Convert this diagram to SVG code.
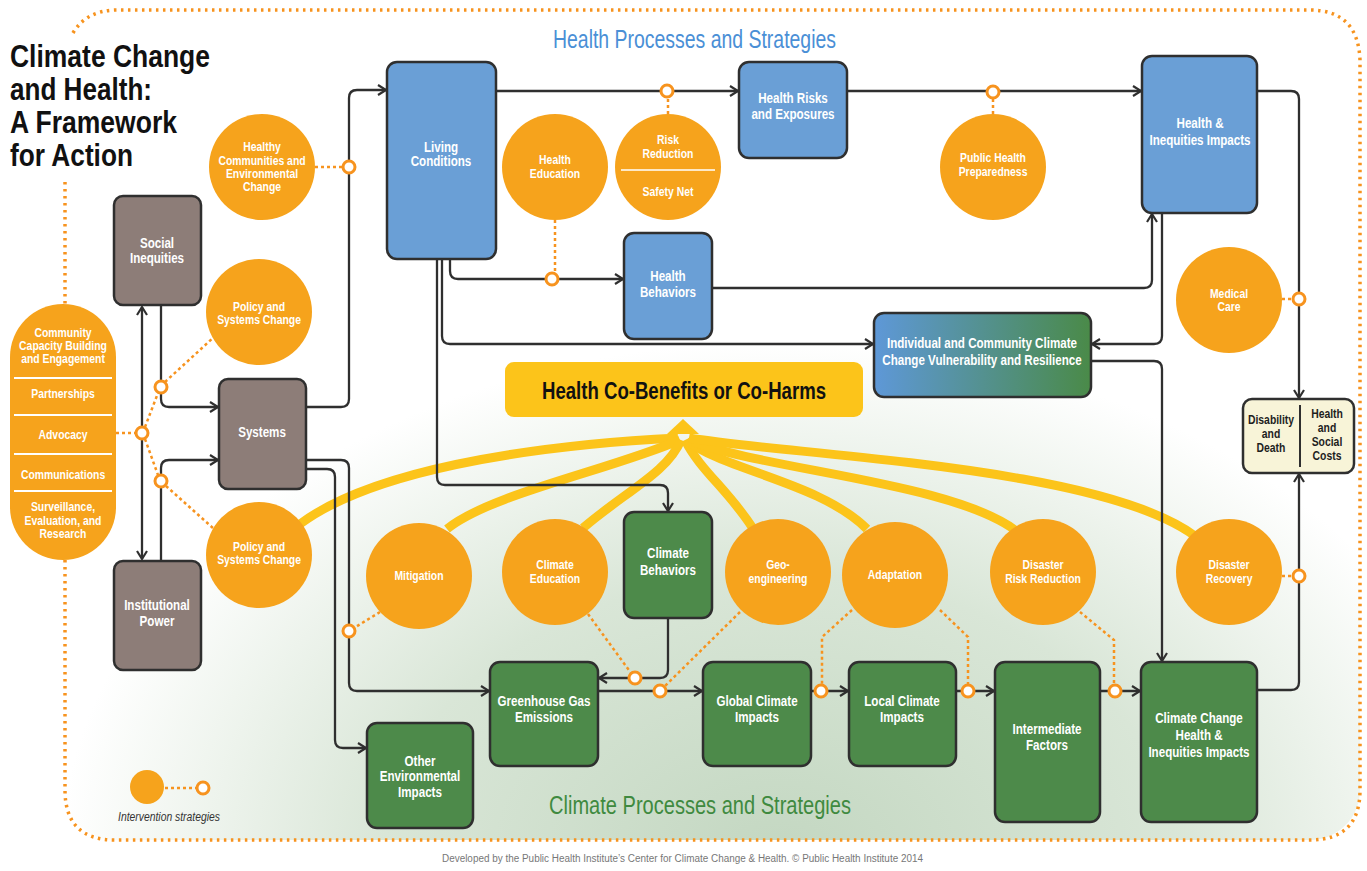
<svg xmlns="http://www.w3.org/2000/svg" width="1367" height="871" viewBox="0 0 1367 871">
<defs>
<style>
.w{font-family:"Liberation Sans",Arial,sans-serif;font-weight:bold;fill:#fff;text-anchor:middle;font-size:13px;transform-box:fill-box;transform-origin:center;transform:scaleX(0.8)}
.bx{font-size:14.5px}
.d{font-family:"Liberation Sans",Arial,sans-serif;font-weight:bold;fill:#1e1e1e;text-anchor:middle;font-size:13.5px;transform-box:fill-box;transform-origin:center;transform:scaleX(0.77)}
.oc{fill:#f6a31c}
.blue{fill:#6a9fd6;stroke:#2f2f2f;stroke-width:2.5}
.brown{fill:#8d7d78;stroke:#2f2f2f;stroke-width:2.5}
.green{fill:#4d8a4a;stroke:#2f2f2f;stroke-width:2.5}
.ln{fill:none;stroke:#2f2f2f;stroke-width:2.3}
.dash{fill:none;stroke:#f7931e;stroke-width:2.5;stroke-dasharray:3 3}
.sc{fill:#fff;stroke:#f7931e;stroke-width:3}
.yl{fill:none;stroke:#fcc41a;stroke-width:9;stroke-linecap:butt}
</style>
<marker id="ah" markerWidth="14" markerHeight="14" refX="9" refY="6" orient="auto-start-reverse" markerUnits="userSpaceOnUse"><path d="M1,1 L9,6 L1,11" fill="none" stroke="#2f2f2f" stroke-width="2.2"/></marker>
<radialGradient id="bg" gradientUnits="userSpaceOnUse" cx="780" cy="860" r="720" gradientTransform="translate(780 860) scale(1 0.72) translate(-780 -860)">
<stop offset="0" stop-color="#c3d7c1"/><stop offset="0.55" stop-color="#d9e6d7"/><stop offset="1" stop-color="#ffffff"/>
</radialGradient>
<linearGradient id="ind" x1="0" y1="0" x2="1" y2="0"><stop offset="0" stop-color="#5e98d8"/><stop offset="1" stop-color="#4a8a48"/></linearGradient>
</defs>
<rect width="1367" height="871" fill="#fff"/>
<rect x="65" y="10" width="1295" height="830" rx="50" fill="url(#bg)"/>
<!-- border -->
<path d="M73,33 Q86,11 115,10 H1310 Q1358,10 1360,60 V790 Q1360,840 1310,840 H115 Q65,840 65,790 V182" fill="none" stroke="#f7931e" stroke-width="3.5" stroke-dasharray="2.5 4.5"/>
<!-- title -->
<g id="title" font-family="'Liberation Sans',Arial,sans-serif" font-weight="bold" font-size="31" fill="#111">
<text x="10" y="67" textLength="200" lengthAdjust="spacingAndGlyphs">Climate Change</text>
<text x="10" y="100" textLength="142" lengthAdjust="spacingAndGlyphs">and Health:</text>
<text x="10" y="133" textLength="167" lengthAdjust="spacingAndGlyphs">A Framework</text>
<text x="10" y="166" textLength="123" lengthAdjust="spacingAndGlyphs">for Action</text>
</g>
<text x="553" y="48" font-family="'Liberation Sans',Arial,sans-serif" font-size="25" fill="#4a8fd6" textLength="283" lengthAdjust="spacingAndGlyphs">Health Processes and Strategies</text>
<text x="549" y="814" font-family="'Liberation Sans',Arial,sans-serif" font-size="25" fill="#3f8a3f" textLength="302" lengthAdjust="spacingAndGlyphs">Climate Processes and Strategies</text>

<!-- yellow co-benefit flows -->
<g id="cobenefit-flows">
<path class="yl" d="M300,524 C370,472 520,446 678,438"/>
<path class="yl" d="M447,529 C490,494 610,470 680,440"/>
<path class="yl" d="M583,528 C625,492 668,472 681,440"/>
<path class="yl" d="M752,527 C728,490 700,470 685,440"/>
<path class="yl" d="M867,529 C820,482 722,470 687,440"/>
<path class="yl" d="M1015,530 C950,482 762,470 689,440"/>
<path class="yl" d="M1195,536 C1100,466 800,456 689,438"/>
<polygon points="683,419 667,434 699,434" fill="#fcc41a"/>
</g>

<!-- connectors -->
<g id="connectors">
<path class="ln" d="M306,407 H341 Q349,407 349,399 V98 Q349,90 357,90 H386" marker-end="url(#ah)"/>
<path class="ln" d="M496,91 H738" marker-end="url(#ah)"/>
<path class="ln" d="M847,91 H1141" marker-end="url(#ah)"/>
<path class="ln" d="M450,259 V271 Q450,279 458,279 H623" marker-end="url(#ah)"/>
<path class="ln" d="M712,288 H1144 Q1152,288 1152,280 V214" marker-end="url(#ah)"/>
<path class="ln" d="M442,259 V336 Q442,344 450,344 H873" marker-end="url(#ah)"/>
<path class="ln" d="M437,259 V477 Q437,485 445,485 H660 Q668,485 668,493 V511" marker-end="url(#ah)"/>
<path class="ln" d="M1162,213 V336 Q1162,344 1154,344 H1092" marker-end="url(#ah)"/>
<path class="ln" d="M1091,361 H1154 Q1162,361 1162,369 V661" marker-end="url(#ah)"/>
<path class="ln" d="M1257,91 H1291 Q1299,91 1299,99 V398" marker-end="url(#ah)"/>
<path class="ln" d="M1257,690 H1291 Q1299,690 1299,682 V474" marker-end="url(#ah)"/>
<path class="ln" d="M306,460 H341 Q349,460 349,468 V683 Q349,691 357,691 H489" marker-end="url(#ah)"/>
<path class="ln" d="M306,469 H327 Q335,469 335,477 V740 Q335,748 343,748 H366" marker-end="url(#ah)"/>
<path class="ln" d="M668,618 V670 Q668,678 660,678 H599" marker-end="url(#ah)"/>
<path class="ln" d="M598,691 H702" marker-end="url(#ah)"/>
<path class="ln" d="M811,691 H848" marker-end="url(#ah)"/>
<path class="ln" d="M956,691 H994" marker-end="url(#ah)"/>
<path class="ln" d="M1100,691 H1140" marker-end="url(#ah)"/>
<path class="ln" d="M161,305 V399 Q161,407 169,407 H218" marker-end="url(#ah)"/>
<path class="ln" d="M161,561 V468 Q161,460 169,460 H218" marker-end="url(#ah)"/>
<path class="ln" d="M142,307 V559" marker-start="url(#ah)" marker-end="url(#ah)"/>
<!-- intervention links -->
<path class="dash" d="M116,433 H136"/>
<path class="dash" d="M145,427 L158,393 M165,382 L214,337"/>
<path class="dash" d="M145,439 L158,475 M166,486 L214,529"/>
<path class="dash" d="M315,167 H343"/>
<path class="dash" d="M555,220 V273"/>
<path class="dash" d="M668,114 V97"/>
<path class="dash" d="M993,114 V98"/>
<path class="dash" d="M1282,299 H1293"/>
<path class="dash" d="M1282,576 H1293"/>
<path class="dash" d="M380,612 L354,628"/>
<path class="dash" d="M588,614 L631,673"/>
<path class="dash" d="M740,612 L665,686"/>
<path class="dash" d="M852,610 L822,637 V685"/>
<path class="dash" d="M940,610 L968,637 V685"/>
<path class="dash" d="M1080,612 L1114,640 V685"/>
<circle class="sc" cx="349" cy="167" r="6"/>
<circle class="sc" cx="667" cy="91" r="6"/>
<circle class="sc" cx="993" cy="92" r="6"/>
<circle class="sc" cx="552" cy="279" r="6"/>
<circle class="sc" cx="1299" cy="299" r="6"/>
<circle class="sc" cx="161" cy="387" r="6"/>
<circle class="sc" cx="142" cy="433" r="6"/>
<circle class="sc" cx="161" cy="481" r="6"/>
<circle class="sc" cx="349" cy="631" r="6"/>
<circle class="sc" cx="635" cy="678" r="6"/>
<circle class="sc" cx="660" cy="691" r="6"/>
<circle class="sc" cx="821" cy="691" r="6"/>
<circle class="sc" cx="968" cy="691" r="6"/>
<circle class="sc" cx="1115" cy="691" r="6"/>
<circle class="sc" cx="1299" cy="576" r="6"/>
</g>

<!-- pill -->
<g id="community-pill">
<rect x="10" y="304" width="106" height="256" rx="53" class="oc"/>
<path d="M14,378 H112 M14,415 H112 M14,454 H112 M14,491 H112" stroke="#fff" stroke-width="2"/>
<text class="w" x="63" y="337">Community</text>
<text class="w" x="63" y="350">Capacity Building</text>
<text class="w" x="63" y="363">and Engagement</text>
<text class="w" x="63" y="398">Partnerships</text>
<text class="w" x="63" y="439">Advocacy</text>
<text class="w" x="63" y="479">Communications</text>
<text class="w" x="63" y="511">Surveillance,</text>
<text class="w" x="63" y="525">Evaluation, and</text>
<text class="w" x="63" y="538">Research</text>
</g>

<!-- brown boxes -->
<g id="social-inequities"><rect class="brown" x="114" y="196" width="87" height="109" rx="9"/><text class="w bx" x="157" y="248">Social</text><text class="w bx" x="157" y="263">Inequities</text></g>
<g id="systems"><rect class="brown" x="219" y="379" width="87" height="110" rx="9"/><text class="w bx" x="262" y="437">Systems</text></g>
<g id="institutional-power"><rect class="brown" x="114" y="561" width="87" height="109" rx="9"/><text class="w bx" x="157" y="610">Institutional</text><text class="w bx" x="157" y="626">Power</text></g>

<!-- orange intervention circles -->
<g id="healthy-communities"><circle class="oc" cx="262" cy="167" r="53"/><text class="w" x="262" y="151">Healthy</text><text class="w" x="262" y="165">Communities and</text><text class="w" x="262" y="178">Environmental</text><text class="w" x="262" y="191">Change</text></g>
<g id="policy-upper"><circle class="oc" cx="259" cy="312" r="53"/><text class="w" x="259" y="311">Policy and</text><text class="w" x="259" y="324">Systems Change</text></g>
<g id="policy-lower"><circle class="oc" cx="259" cy="555" r="53"/><text class="w" x="259" y="551">Policy and</text><text class="w" x="259" y="564">Systems Change</text></g>
<g id="health-education"><circle class="oc" cx="555" cy="167" r="53"/><text class="w" x="555" y="164">Health</text><text class="w" x="555" y="178">Education</text></g>
<g id="risk-reduction"><circle class="oc" cx="668" cy="167" r="53"/><path d="M621,170 H715" stroke="#fff" stroke-width="1.5"/><text class="w" x="668" y="144">Risk</text><text class="w" x="668" y="158">Reduction</text><text class="w" x="668" y="196">Safety Net</text></g>
<g id="public-health-preparedness"><circle class="oc" cx="993" cy="167" r="53"/><text class="w" x="993" y="162">Public Health</text><text class="w" x="993" y="176">Preparedness</text></g>
<g id="medical-care"><circle class="oc" cx="1229" cy="300" r="53"/><text class="w" x="1229" y="298">Medical</text><text class="w" x="1229" y="311">Care</text></g>
<g id="mitigation"><circle class="oc" cx="419" cy="576" r="53"/><text class="w" x="419" y="580">Mitigation</text></g>
<g id="climate-education"><circle class="oc" cx="555" cy="572" r="53"/><text class="w" x="555" y="569">Climate</text><text class="w" x="555" y="583">Education</text></g>
<g id="geo-engineering"><circle class="oc" cx="778" cy="572" r="53"/><text class="w" x="778" y="569">Geo-</text><text class="w" x="778" y="583">engineering</text></g>
<g id="adaptation"><circle class="oc" cx="895" cy="575" r="53"/><text class="w" x="895" y="579">Adaptation</text></g>
<g id="disaster-risk-reduction"><circle class="oc" cx="1043" cy="572" r="53"/><text class="w" x="1043" y="569">Disaster</text><text class="w" x="1043" y="583">Risk Reduction</text></g>
<g id="disaster-recovery"><circle class="oc" cx="1229" cy="572" r="53"/><text class="w" x="1229" y="569">Disaster</text><text class="w" x="1229" y="583">Recovery</text></g>

<!-- blue boxes -->
<g id="living-conditions"><rect class="blue" x="387" y="62" width="109" height="197" rx="10"/><text class="w bx" x="441" y="152">Living</text><text class="w bx" x="441" y="166">Conditions</text></g>
<g id="health-risks"><rect class="blue" x="739" y="62" width="108" height="96" rx="10"/><text class="w bx" x="793" y="103">Health Risks</text><text class="w bx" x="793" y="119">and Exposures</text></g>
<g id="health-behaviors"><rect class="blue" x="624" y="233" width="88" height="106" rx="10"/><text class="w bx" x="668" y="281">Health</text><text class="w bx" x="668" y="297">Behaviors</text></g>
<g id="health-inequities-impacts"><rect class="blue" x="1142" y="56" width="115" height="157" rx="10"/><text class="w bx" x="1200" y="128">Health &amp;</text><text class="w bx" x="1200" y="145">Inequities Impacts</text></g>
<g id="vulnerability-resilience"><rect x="874" y="313" width="217" height="84" rx="10" fill="url(#ind)" stroke="#2f2f2f" stroke-width="2.5"/><text class="w bx" x="982" y="348">Individual and Community Climate</text><text class="w bx" x="982" y="365">Change Vulnerability and Resilience</text></g>

<!-- co-benefits box -->
<g id="co-benefits"><rect x="505" y="362" width="358" height="55" rx="9" fill="#fcc41a"/><text x="684" y="399" font-family="'Liberation Sans',Arial,sans-serif" font-weight="bold" font-size="23" fill="#111" text-anchor="middle" textLength="284" lengthAdjust="spacingAndGlyphs">Health Co-Benefits or Co-Harms</text></g>

<!-- outcome box -->
<g id="disability-costs"><rect x="1243" y="399" width="111" height="74" rx="9" fill="#f8f4d8" stroke="#2f2f2f" stroke-width="2.5"/><path d="M1300,405 V467" stroke="#2f2f2f" stroke-width="2"/>
<text class="d" x="1271" y="424">Disability</text><text class="d" x="1271" y="438">and</text><text class="d" x="1271" y="452">Death</text>
<text class="d" x="1327" y="418">Health</text><text class="d" x="1327" y="432">and</text><text class="d" x="1327" y="446">Social</text><text class="d" x="1327" y="460">Costs</text></g>

<!-- green boxes -->
<g id="climate-behaviors"><rect class="green" x="624" y="512" width="88" height="106" rx="10"/><text class="w bx" x="668" y="558">Climate</text><text class="w bx" x="668" y="575">Behaviors</text></g>
<g id="other-environmental-impacts"><rect class="green" x="367" y="723" width="106" height="105" rx="10"/><text class="w bx" x="420" y="766">Other</text><text class="w bx" x="420" y="781">Environmental</text><text class="w bx" x="420" y="797">Impacts</text></g>
<g id="ghg-emissions"><rect class="green" x="490" y="662" width="108" height="104" rx="10"/><text class="w bx" x="544" y="706">Greenhouse Gas</text><text class="w bx" x="544" y="722">Emissions</text></g>
<g id="global-climate-impacts"><rect class="green" x="703" y="662" width="108" height="104" rx="10"/><text class="w bx" x="757" y="706">Global Climate</text><text class="w bx" x="757" y="722">Impacts</text></g>
<g id="local-climate-impacts"><rect class="green" x="849" y="662" width="107" height="104" rx="10"/><text class="w bx" x="902" y="706">Local Climate</text><text class="w bx" x="902" y="722">Impacts</text></g>
<g id="intermediate-factors"><rect class="green" x="995" y="662" width="105" height="160" rx="10"/><text class="w bx" x="1047" y="734">Intermediate</text><text class="w bx" x="1047" y="750">Factors</text></g>
<g id="cc-health-impacts"><rect class="green" x="1141" y="662" width="116" height="160" rx="10"/><text class="w bx" x="1199" y="723">Climate Change</text><text class="w bx" x="1199" y="740">Health &amp;</text><text class="w bx" x="1199" y="757">Inequities Impacts</text></g>

<!-- legend -->
<g id="legend"><circle class="oc" cx="147" cy="787" r="17"/><path class="dash" d="M165,788 H197"/><circle class="sc" cx="203" cy="788" r="6"/>
<text x="118" y="821" font-family="'Liberation Sans',Arial,sans-serif" font-style="italic" font-size="12" fill="#333" textLength="102" lengthAdjust="spacingAndGlyphs">Intervention strategies</text></g>

<text x="442" y="862" font-family="'Liberation Sans',Arial,sans-serif" font-size="10" fill="#777" textLength="481" lengthAdjust="spacingAndGlyphs">Developed by the Public Health Institute’s Center for Climate Change &amp; Health. © Public Health Institute 2014</text>
</svg>
